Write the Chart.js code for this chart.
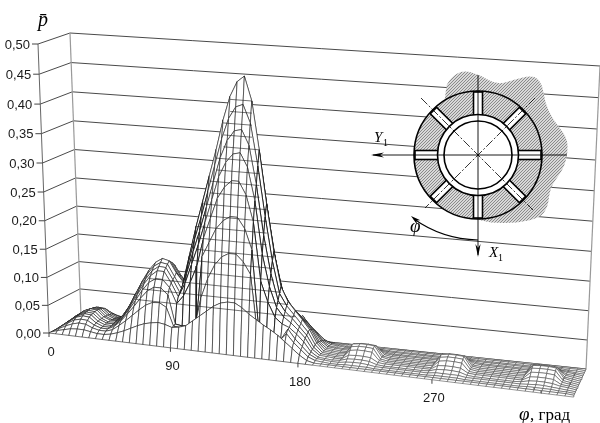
<!DOCTYPE html>
<html>
<head>
<meta charset="utf-8">
<style>
  html, body { margin: 0; padding: 0; background: #fff; }
  #wrap { position: relative; width: 600px; height: 423px; }
</style>
<script src="https://cdn.jsdelivr.net/npm/chart.js@4"></script>
</head>
<body>
<div id="wrap"><canvas id="surface" width="600" height="423"></canvas></div>
<script>
// tick labels
const pTicks = [0, 0.05, 0.10, 0.15, 0.20, 0.25, 0.30, 0.35, 0.40, 0.45, 0.50];
const phiTicks = [0, 90, 180, 270];

// mesh nodes along the circumference, degrees
const phiNodes = [
  0, 5, 10, 15, 20, 25, 30, 35, 40, 45, 50, 55, 60, 65, 70, 75, 80, 85,
  90, 95, 100, 105, 110, 115, 120, 125, 130, 135, 140, 145,
  150, 155, 160, 165, 170, 175, 180, 185, 190, 195, 200, 205,
  210, 215, 220, 225, 230, 235, 240, 245, 250, 255, 260, 265,
  270, 275, 280, 285, 290, 295, 300, 305, 310, 315, 320, 325,
  330, 335, 340, 345, 350, 355, 360
];

// pressure along phiNodes, one row per axial station from the bearing edge to mid plane
const rowEdge = [
  0, 0, 0, 0, 0, 0, 0, 0, 0, 0, 0, 0, 0, 0, 0, 0, 0, 0,
  0, 0, 0, 0, 0, 0, 0, 0, 0, 0, 0, 0,
  0, 0, 0, 0, 0, 0, 0, 0, 0, 0, 0, 0,
  0, 0, 0, 0, 0, 0, 0, 0, 0, 0, 0, 0,
  0, 0, 0, 0, 0, 0, 0, 0, 0, 0, 0, 0,
  0, 0, 0, 0, 0, 0, 0
];
const row1 = [
  0, .004, .007, .01, .011, .011, .009, .007, .007, .009, .013, .018, .024, .03, .035, .038, .04, .038,
  .034, .036, .04, .05, .06, .07, .08, .087, .09, .09, .083, .073,
  .065, .057, .05, .042, .032, .022, .012, .004, .001, .001, .001, .001,
  .001, .001, .001, .001, .001, .001, .001, .001, .001, .001, .001, .001,
  .001, .001, .001, .001, .001, .001, .001, .001, .001, .001, .001, .001,
  .001, .001, .001, .001, .001, .001, 0
];
const row2 = [
  0, .006, .012, .017, .02, .019, .014, .011, .011, .015, .024, .034, .045, .056, .066, .072, .073, .066,
  .034, .033, .033, .034, .09, .125, .15, .165, .172, .172, .16, .14,
  .032, .03, .03, .03, .044, .03, .019, .008, .003, .002, .001, .001,
  .002, .002, .002, .002, .001, .001, .001, .001, .001, .001, .001, .001,
  .002, .002, .002, .002, .001, .001, .001, .001, .001, .001, .001, .001,
  .002, .002, .002, .002, .001, .001, 0
];
const row3 = [
  0, .008, .015, .022, .025, .024, .017, .013, .013, .019, .03, .044, .059, .075, .089, .097, .097, .086,
  .036, .034, .035, .036, .16, .185, .21, .225, .233, .233, .215, .18,
  .03, .03, .03, .03, .05, .034, .022, .01, .004, .003, .002, .002,
  .004, .005, .005, .004, .002, .002, .002, .002, .002, .002, .002, .002,
  .004, .004, .004, .004, .002, .002, .002, .002, .002, .002, .002, .002,
  .003, .004, .004, .003, .002, .001, 0
];
const row4 = [
  0, .009, .017, .025, .029, .028, .019, .014, .014, .021, .034, .05, .068, .087, .102, .11, .11, .097,
  .07, .085, .11, .14, .19, .225, .26, .28, .292, .292, .27, .225,
  .125, .09, .065, .055, .05, .04, .028, .012, .004, .003, .002, .003,
  .007, .008, .008, .007, .003, .002, .002, .002, .002, .002, .002, .003,
  .007, .008, .008, .007, .003, .002, .002, .002, .002, .002, .002, .003,
  .006, .007, .007, .006, .003, .002, 0
];
const row5 = [
  0, .009, .018, .026, .031, .03, .02, .015, .015, .023, .037, .056, .076, .096, .112, .122, .122, .103,
  .08, .105, .14, .175, .215, .255, .295, .32, .335, .338, .315, .26,
  .17, .115, .08, .065, .056, .045, .032, .014, .005, .004, .003, .003,
  .011, .012, .012, .011, .004, .003, .003, .003, .003, .003, .003, .003,
  .011, .012, .012, .011, .004, .003, .003, .003, .003, .003, .003, .003,
  .01, .011, .011, .01, .003, .002, 0
];
const row6 = [
  0, .01, .019, .027, .032, .031, .021, .016, .016, .026, .041, .062, .083, .103, .119, .128, .127, .107,
  .085, .12, .16, .198, .24, .283, .325, .355, .372, .375, .35, .285,
  .20, .135, .09, .072, .061, .048, .035, .015, .005, .004, .003, .003,
  .017, .019, .019, .018, .005, .003, .003, .003, .003, .003, .003, .003,
  .016, .018, .018, .017, .004, .003, .003, .003, .003, .003, .003, .003,
  .015, .016, .016, .015, .004, .002, 0
];
const row7 = [
  0, .01, .02, .028, .033, .032, .021, .016, .017, .028, .045, .068, .09, .11, .125, .133, .131, .11,
  .09, .135, .18, .22, .265, .31, .355, .39, .41, .415, .385, .315,
  .23, .155, .10, .08, .066, .052, .038, .017, .005, .004, .003, .004,
  .021, .023, .023, .022, .005, .003, .003, .003, .003, .003, .003, .004,
  .02, .022, .022, .021, .005, .003, .003, .003, .003, .003, .003, .004,
  .019, .02, .02, .019, .004, .002, 0
];
const row8 = [
  0, .01, .02, .029, .034, .033, .022, .017, .018, .03, .048, .072, .095, .115, .13, .138, .135, .115,
  .10, .15, .20, .245, .29, .335, .385, .425, .45, .46, .42, .34,
  .25, .17, .11, .085, .07, .056, .04, .018, .005, .004, .003, .004,
  .023, .025, .025, .024, .006, .003, .003, .003, .003, .003, .003, .004,
  .022, .024, .024, .023, .005, .003, .003, .003, .003, .003, .003, .004,
  .021, .022, .022, .021, .005, .002, 0
];

// the bearing is symmetric about its mid plane, so the back half repeats the front rows
const depthRows = [rowEdge, row1, row2, row3, row4, row5, row6, row7, row8, row7, row6, row5, row4, row3, row2, row1, rowEdge];

// band lines the surface shows across the big peak
const bandLevels = [.06, .08, .10, .12, .14, .16, .18, .20, .22, .24, .26, .28, .30, .32, .34, .36, .38, .40, .42];

// angular ranges where the oil feed walls make the mesh look heavy
const feedWalls = [[90, 110], [145, 165]];

// picture corners of the 3D box, floor level and 0.5 height
const boxFL = [49, 333], boxFR = [573, 397], boxBL = [81, 316], boxBR = [586, 369];
const topFL = [38, 44], topFR = [589, 85], topBL = [70, 33], topBR = [600, 66];

function mix(a, b, t) {
  return a + (b - a) * t;
}

function project(phi, depth, p) {
  const u = phi / 360;
  const s = u / (u + (1 - u) * 1.105); // perspective along the long side
  const raw = p / 0.5;
  const h = raw / (raw + (1 - raw) * 1.05); // same for the height
  const pick = (i) => {
    const floor = mix(mix(boxFL[i], boxFR[i], s), mix(boxBL[i], boxBR[i], s), depth);
    const top = mix(mix(topFL[i], topFR[i], s), mix(topBL[i], topBR[i], s), depth);
    return mix(floor, top, h);
  };
  return { x: pick(0), y: pick(1) };
}

const meshLine = '#1a1a1a';
const flatLine = '#4d4d4d';
const wallLine = '#4a4a4a';

function lineSet(points, color, width) {
  return { data: points, showLine: true, fill: false, pointRadius: 0, borderColor: color, borderWidth: width, tension: 0 };
}

// listed back to front, reversed at the end because chart.js paints the first dataset last
const painted = [];

pTicks.forEach(p => {
  painted.push(lineSet([project(0, 0, p), project(0, 1, p)], wallLine, 1));
  painted.push(lineSet(phiTicks.concat(360).map(phi => project(phi, 1, p)), wallLine, 1));
});
painted.push(lineSet([project(0, 0, 0), project(0, 0, 0.5)], '#666', 1));
painted.push(lineSet([project(0, 1, 0), project(0, 1, 0.5)], '#999', 1.2));
painted.push(lineSet([project(360, 1, 0), project(360, 1, 0.5)], '#999', 1.2));
painted.push(lineSet([project(360, 0, 0), project(360, 1, 0)], '#888', 1));

for (let r = depthRows.length - 2; r >= 0; r--) {
  const d0 = r / (depthRows.length - 1);
  const d1 = (r + 1) / (depthRows.length - 1);
  for (let c = 0; c < phiNodes.length - 1; c++) {
    const a = project(phiNodes[c], d0, depthRows[r][c]);
    const b = project(phiNodes[c + 1], d0, depthRows[r][c + 1]);
    const e = project(phiNodes[c + 1], d1, depthRows[r + 1][c + 1]);
    const f = project(phiNodes[c], d1, depthRows[r + 1][c]);
    const heavy = r >= 2 && feedWalls.some(w => phiNodes[c] >= w[0] && phiNodes[c] < w[1]);
    painted.push({
      data: [a, b, e, f, a], showLine: true, fill: 'shape', backgroundColor: '#fff',
      pointRadius: 0, tension: 0,
      borderColor: phiNodes[c] >= 190 ? flatLine : meshLine,
      borderWidth: heavy ? 0.9 : 0.6
    });
  }
}

// band lines go over the mesh, each one walks out from the top of the peak
const peakCol = phiNodes.indexOf(135);
bandLevels.forEach(level => {
  let lo = peakCol, hi = peakCol;
  while (lo > 0 && row8[lo - 1] >= level) lo--;
  while (hi < phiNodes.length - 1 && row8[hi + 1] >= level) hi++;
  painted.push(lineSet([project(phiNodes[lo], 0.5, level), project(phiNodes[hi], 0.5, level)], meshLine, 0.6));
});
painted.reverse();

function makeHatch() {
  const c = document.createElement('canvas');
  c.width = 3; c.height = 3;
  const g = c.getContext('2d');
  g.fillStyle = '#d8d8d8';
  g.fillRect(0, 0, 3, 3);
  g.fillStyle = '#8a8a8a';
  g.fillRect(0, 2, 1, 1); g.fillRect(1, 1, 1, 1); g.fillRect(2, 0, 1, 1);
  return c;
}

// outline of the housing patch behind the ring
const patch = [
  [443, 93], [450, 78], [463, 70], [480, 75], [497, 85], [513, 80], [533, 75], [542, 83], [545, 103],
  [553, 120], [567, 137], [568, 153], [563, 170], [550, 187], [548, 207], [540, 218], [517, 223],
  [490, 223], [473, 218], [440, 160]
];

function arrowHead(ctx, x, y, angle, len, half) {
  ctx.save();
  ctx.translate(x, y);
  ctx.rotate(angle);
  ctx.beginPath();
  ctx.moveTo(0, 0);
  ctx.lineTo(-len, -half);
  ctx.lineTo(-len * 0.7, 0);
  ctx.lineTo(-len, half);
  ctx.closePath();
  ctx.fill();
  ctx.restore();
}

function drawBearing(ctx) {
  const cx = 478, cy = 155;
  const hatch = ctx.createPattern(makeHatch(), 'repeat');
  ctx.save();
  ctx.fillStyle = hatch;
  ctx.beginPath();
  patch.forEach((pt, i) => {
    const next = patch[(i + 1) % patch.length];
    const mx = (pt[0] + next[0]) / 2, my = (pt[1] + next[1]) / 2;
    if (i === 0) ctx.moveTo(mx, my);
    else ctx.quadraticCurveTo(pt[0], pt[1], mx, my);
  });
  ctx.closePath();
  ctx.fill();

  ctx.strokeStyle = '#000';
  ctx.lineWidth = 1.6;
  ctx.beginPath(); ctx.arc(cx, cy, 64, 0, Math.PI * 2); ctx.fillStyle = hatch; ctx.fill(); ctx.stroke();

  for (let k = 0; k < 8; k++) {
    ctx.save();
    ctx.translate(cx, cy);
    ctx.rotate(k * Math.PI / 4);
    ctx.fillStyle = '#fff';
    ctx.fillRect(39, -4.5, 24, 9);
    ctx.strokeRect(39, -4.5, 24, 9);
    ctx.restore();
  }

  ctx.beginPath(); ctx.arc(cx, cy, 40.5, 0, Math.PI * 2); ctx.fillStyle = '#fff'; ctx.fill(); ctx.stroke();
  ctx.beginPath(); ctx.arc(cx, cy, 34, 0, Math.PI * 2); ctx.stroke();

  // centre lines
  ctx.lineWidth = 0.8;
  ctx.setLineDash([9, 2, 2, 2]);
  ctx.beginPath();
  ctx.moveTo(cx - 57, cy - 57); ctx.lineTo(cx + 55, cy + 55);
  ctx.moveTo(cx + 57, cy - 57); ctx.lineTo(cx - 53, cy + 53);
  ctx.stroke();
  ctx.setLineDash([]);

  ctx.lineWidth = 0.9;
  ctx.beginPath();
  ctx.moveTo(cx, 75); ctx.lineTo(cx, 255);
  ctx.moveTo(373, cy); ctx.lineTo(567, cy);
  ctx.stroke();
  ctx.fillStyle = '#000';
  arrowHead(ctx, cx, 257, Math.PI / 2, 13, 2.6);
  arrowHead(ctx, 371, cy, Math.PI, 13, 2.6);

  // angle arc
  ctx.lineWidth = 1.1;
  ctx.beginPath();
  ctx.moveTo(cx, 240);
  ctx.quadraticCurveTo(442, 239, 414, 219);
  ctx.stroke();
  arrowHead(ctx, 411, 216, Math.PI * 1.22, 10, 2.6);
  ctx.restore();
}

function drawTexts(ctx) {
  ctx.save();
  ctx.fillStyle = '#1a1a1a';
  ctx.font = '13px "Liberation Sans"';
  ctx.textBaseline = 'middle';
  ctx.textAlign = 'right';
  ctx.strokeStyle = '#444';
  ctx.lineWidth = 1;
  pTicks.forEach(p => {
    const at = project(0, 0, p);
    ctx.fillText(p.toFixed(2).replace('.', ','), at.x - 8, at.y + 1);
    ctx.beginPath(); ctx.moveTo(at.x - 6, at.y); ctx.lineTo(at.x, at.y); ctx.stroke();
  });
  ctx.textAlign = 'center';
  phiTicks.forEach(phi => {
    const at = project(phi, 0, 0);
    ctx.fillText(String(phi), at.x + 2, at.y + 19);
    ctx.beginPath(); ctx.moveTo(at.x, at.y); ctx.lineTo(at.x, at.y + 4); ctx.stroke();
  });

  ctx.fillStyle = '#000';
  ctx.textBaseline = 'alphabetic';
  ctx.textAlign = 'left';
  ctx.font = 'italic 20px "Liberation Serif"';
  ctx.fillText('p\u0304', 38, 26);
  ctx.font = 'italic 19px "Liberation Serif"';
  ctx.fillText('\u03C6', 519, 420);
  ctx.font = '17px "Liberation Serif"';
  ctx.fillText(', град', 530, 420);

  ctx.font = 'italic 15px "Liberation Serif"';
  ctx.fillText('Y', 374, 142);
  ctx.fillText('X', 489, 257);
  ctx.font = '10px "Liberation Serif"';
  ctx.fillText('1', 383, 146);
  ctx.fillText('1', 498, 261);
  ctx.font = 'italic 19px "Liberation Serif"';
  ctx.fillText('\u03C6', 410, 232);
  ctx.restore();
}

const overlay = {
  id: 'overlay',
  afterDatasetsDraw(chart) {
    drawBearing(chart.ctx);
    drawTexts(chart.ctx);
  }
};

const bgWhite = {
  id: 'bgWhite',
  beforeDraw(chart) {
    chart.ctx.save();
    chart.ctx.fillStyle = '#fff';
    chart.ctx.fillRect(0, 0, chart.width, chart.height);
    chart.ctx.restore();
  }
};

new Chart(document.getElementById('surface').getContext('2d'), {
  type: 'scatter',
  data: { datasets: painted },
  options: {
    responsive: false,
    animation: false,
    events: [],
    layout: { padding: 0 },
    plugins: { legend: { display: false }, tooltip: { enabled: false } },
    scales: {
      x: { type: 'linear', display: false, min: 0, max: 600 },
      y: { type: 'linear', display: false, min: 0, max: 423, reverse: true }
    }
  },
  plugins: [bgWhite, overlay]
});
</script>
</body>
</html>
